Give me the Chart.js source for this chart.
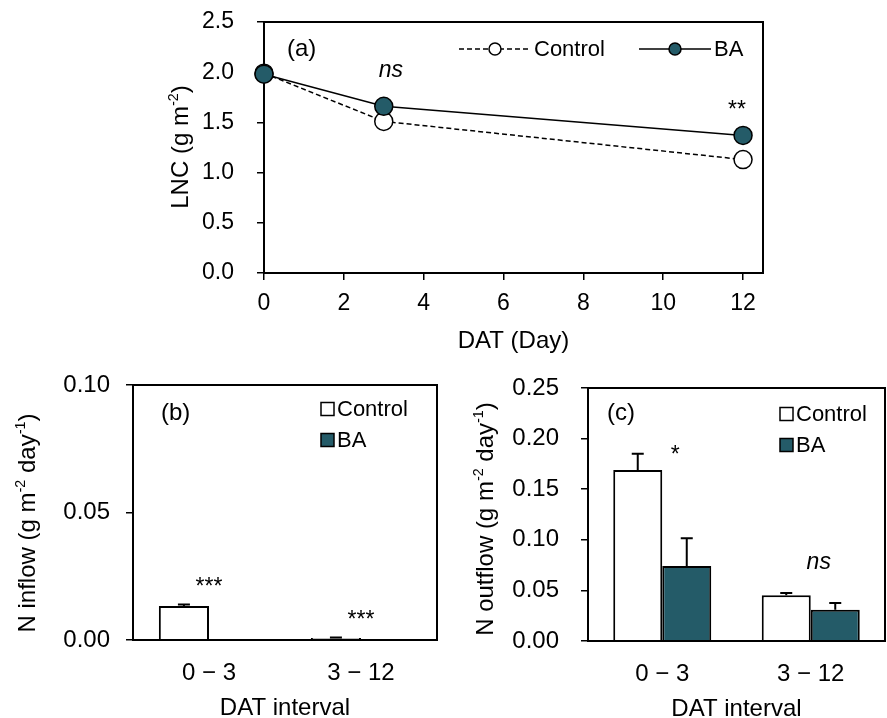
<!DOCTYPE html>
<html>
<head>
<meta charset="utf-8">
<script src="https://cdn.jsdelivr.net/npm/chart.js@4"></script>
<style>
  body { margin: 0; background: #fff; }
  #wrap { position: relative; width: 887px; height: 718px; }
  canvas { position: absolute; }
</style>
</head>
<body>
<div id="wrap">
  <canvas id="lncChart" width="887" height="360" style="left:0px;top:0px"></canvas>
  <canvas id="inflowChart" width="440" height="358" style="left:0px;top:360px"></canvas>
  <canvas id="outflowChart" width="447" height="358" style="left:440px;top:360px"></canvas>
</div>
<script>
const FONT = "'Liberation Sans', Arial, sans-serif";
const TEAL = '#245b68';

// (a) leaf N content
const days = [0, 3, 12];
const lncControl = [1.99, 1.51, 1.13];
const lncBA = [1.98, 1.66, 1.37];
const dayTicks = [0, 2, 4, 6, 8, 10, 12];
const lncTicks = [0, 0.5, 1.0, 1.5, 2.0, 2.5];

// (b), (c) N flows per interval
const intervals = ['0 \u2212 3', '3 \u2212 12'];
const inflowControl = [0.0133, 0.0008];
const inflowControlErr = [0.0006, 0.0002];
const inflowBA = [-0.0008, -0.0006];
const inflowBAErr = [0, 0];
const inflowTicks = [0, 0.05, 0.10];
const outflowControl = [0.169, 0.0453];
const outflowControlErr = [0.016, 0.0022];
const outflowBA = [0.074, 0.031];
const outflowBAErr = [0.0275, 0.0066];
const outflowTicks = [0, 0.05, 0.10, 0.15, 0.20, 0.25];

Chart.defaults.font.family = FONT;
Chart.defaults.color = '#000';

function font(size, italic) {
  return (italic ? 'italic ' : '') + size + 'px ' + FONT;
}

// text with superscript parts, optionally rotated (y titles)
function richText(ctx, parts, x, y, size, rotate) {
  ctx.save();
  ctx.translate(x, y);
  if (rotate) ctx.rotate(-Math.PI / 2);
  let total = 0;
  parts.forEach(p => {
    ctx.font = font(p.sup ? size * 0.6 : size);
    total += ctx.measureText(p.t).width;
  });
  let cx = -total / 2;
  const base = size * 0.33;
  ctx.textBaseline = 'alphabetic';
  ctx.textAlign = 'left';
  ctx.fillStyle = '#000';
  parts.forEach(p => {
    const s = p.sup ? size * 0.6 : size;
    ctx.font = font(s);
    ctx.fillText(p.t, cx, p.sup ? base - size * 0.42 : base);
    cx += ctx.measureText(p.t).width;
  });
  ctx.restore();
}

function drawFrame(chart) {
  const { ctx, chartArea: a } = chart;
  ctx.save();
  ctx.strokeStyle = '#000';
  ctx.lineWidth = 2;
  ctx.strokeRect(a.left, a.top, a.right - a.left, a.bottom - a.top);
  ctx.restore();
}

function deco(cfg) {
  return {
    id: 'deco',
    beforeDatasetsDraw(chart) {
      if (!cfg.frameOnTop) drawFrame(chart);
    },
    afterDatasetsDraw(chart) {
      const { ctx, chartArea: a, scales } = chart;
      if (cfg.frameOnTop) drawFrame(chart);
      // error bars
      chart.data.datasets.forEach((ds, i) => {
        if (!ds.errors) return;
        const meta = chart.getDatasetMeta(i);
        meta.data.forEach((bar, j) => {
          const e = ds.errors[j];
          if (!e) return;
          const y0 = scales.y.getPixelForValue(ds.data[j]);
          const y1 = scales.y.getPixelForValue(ds.data[j] + e);
          ctx.save();
          ctx.strokeStyle = '#000';
          ctx.lineWidth = 2;
          ctx.beginPath();
          ctx.moveTo(bar.x, y0);
          ctx.lineTo(bar.x, y1);
          ctx.moveTo(bar.x - 6, y1);
          ctx.lineTo(bar.x + 6, y1);
          ctx.stroke();
          ctx.restore();
        });
      });
      // significance notes
      ctx.save();
      ctx.fillStyle = '#000';
      ctx.textAlign = 'center';
      ctx.textBaseline = 'middle';
      cfg.notes.forEach(n => {
        ctx.font = font(n.size || 23, n.italic);
        const x = scales.x.getPixelForValue(n.xv) + (n.dx || 0);
        const y = scales.y.getPixelForValue(n.yv);
        ctx.fillText(n.text, x, y);
      });
      // panel label
      ctx.textAlign = 'left';
      ctx.font = font(24);
      ctx.fillText(cfg.label.text, a.left + cfg.label.dx, a.top + cfg.label.dy);
      ctx.restore();
      cfg.legend(ctx, a);
      // axis titles
      richText(ctx, cfg.yTitle, cfg.yTitlePos[0], cfg.yTitlePos[1], 24, true);
      richText(ctx, [{ t: cfg.xTitle }], (a.left + a.right) / 2, a.bottom + cfg.xTitleDy, 24, false);
    }
  };
}

function boxLegend(dx, dy) {
  return (ctx, a) => {
    const items = [['Control', '#fff'], ['BA', TEAL]];
    ctx.save();
    items.forEach(([name, fill], i) => {
      const x = a.left + dx, y = a.top + dy + i * 31;
      ctx.fillStyle = fill;
      ctx.strokeStyle = '#000';
      ctx.lineWidth = 1.5;
      ctx.fillRect(x, y - 6.5, 13, 13);
      ctx.strokeRect(x, y - 6.5, 13, 13);
      ctx.fillStyle = '#000';
      ctx.font = font(22);
      ctx.textBaseline = 'middle';
      ctx.fillText(name, x + 16, y + 1);
    });
    ctx.restore();
  };
}

function lineLegend(ctx, a) {
  const items = [['Control', '#fff', [5, 3], 195], ['BA', TEAL, [], 375]];
  ctx.save();
  items.forEach(([name, fill, dash, dx]) => {
    const x1 = a.left + dx, x2 = x1 + 72, y = a.top + 27;
    ctx.strokeStyle = '#000';
    ctx.lineWidth = 1.5;
    ctx.setLineDash(dash);
    ctx.beginPath();
    ctx.moveTo(x1, y);
    ctx.lineTo(x2, y);
    ctx.stroke();
    ctx.setLineDash([]);
    ctx.beginPath();
    ctx.arc((x1 + x2) / 2, y, 6, 0, Math.PI * 2);
    ctx.fillStyle = fill;
    ctx.fill();
    ctx.stroke();
    ctx.fillStyle = '#000';
    ctx.font = font(22);
    ctx.textBaseline = 'middle';
    ctx.textAlign = 'left';
    ctx.fillText(name, x2 + 3, y + 1);
  });
  ctx.restore();
}

function yAxis(ticks, digits, width, size, padding) {
  return {
    min: ticks[0], max: ticks[ticks.length - 1],
    afterBuildTicks: s => { s.ticks = ticks.map(v => ({ value: v })); },
    afterFit: s => { s.width = width; s.paddingTop = 0; s.paddingBottom = 0; },
    ticks: { font: { size: size }, padding: padding, callback: v => v.toFixed(digits) },
    grid: { drawOnChartArea: false, color: '#000', lineWidth: 1.5, tickLength: 7 },
    border: { color: '#000', width: 2 }
  };
}

// (a) line chart
new Chart(document.getElementById('lncChart').getContext('2d'), {
  type: 'line',
  data: {
    datasets: [
      {
        label: 'Control', order: 1, clip: false,
        data: days.map((d, i) => ({ x: d, y: lncControl[i] })),
        borderColor: '#000', borderWidth: 1.5, borderDash: [5, 3],
        pointRadius: 9, pointBorderWidth: 1.5, pointBorderColor: '#000',
        pointBackgroundColor: '#fff'
      },
      {
        label: 'BA', order: 0, clip: false,
        data: days.map((d, i) => ({ x: d, y: lncBA[i] })),
        borderColor: '#000', borderWidth: 1.5,
        pointRadius: 9, pointBorderWidth: 1.5, pointBorderColor: '#000',
        pointBackgroundColor: TEAL
      }
    ]
  },
  options: {
    responsive: false, animation: false, devicePixelRatio: 1,
    layout: { padding: { top: 22, right: 124, left: 0, bottom: 0 } },
    plugins: { legend: { display: false }, tooltip: { enabled: false } },
    scales: {
      x: {
        type: 'linear', min: 0, max: 12.5,
        afterBuildTicks: s => { s.ticks = dayTicks.map(v => ({ value: v })); },
        afterFit: s => { s.height = 87; s.paddingLeft = 0; s.paddingRight = 0; },
        ticks: { font: { size: 23 }, padding: 10, maxRotation: 0 },
        grid: { drawOnChartArea: false, color: '#000', lineWidth: 1.5, tickLength: 7 },
        border: { color: '#000', width: 2 }
      },
      y: yAxis(lncTicks, 1, 264, 23, 23)
    }
  },
  plugins: [deco({
    frameOnTop: false,
    notes: [
      { text: 'ns', xv: 3.18, yv: 2.02, italic: true },
      { text: '**', xv: 11.85, yv: 1.62 }
    ],
    label: { text: '(a)', dx: 23, dy: 27 },
    legend: lineLegend,
    yTitle: [{ t: 'LNC (g m' }, { t: '-2', sup: true }, { t: ')' }],
    yTitlePos: [180, 147],
    xTitle: 'DAT (Day)',
    xTitleDy: 67
  })]
});

function barChart(id, ctrl, ctrlErr, ba, baErr, ticks, yWidth, yPad, padding, xHeight, cfg) {
  new Chart(document.getElementById(id).getContext('2d'), {
    type: 'bar',
    data: {
      labels: intervals,
      datasets: [
        { label: 'Control', data: ctrl, errors: ctrlErr, backgroundColor: '#fff',
          borderColor: '#000', borderWidth: 2 },
        { label: 'BA', data: ba, errors: baErr, backgroundColor: TEAL,
          borderColor: '#000', borderWidth: 2 }
      ]
    },
    options: {
      responsive: false, animation: false, devicePixelRatio: 1,
      layout: { padding: padding },
      categoryPercentage: 0.66, barPercentage: 1,
      plugins: { legend: { display: false }, tooltip: { enabled: false } },
      scales: {
        x: {
          type: 'category', offset: true,
          afterFit: s => { s.height = xHeight; s.paddingLeft = 0; s.paddingRight = 0; },
          ticks: { font: { size: 24 }, padding: 11, maxRotation: 0 },
          grid: { display: false },
          border: { color: '#000', width: 2 }
        },
        y: yAxis(ticks, 2, yWidth, 24, yPad)
      }
    },
    plugins: [deco(cfg)]
  });
}

// (b) N inflow
barChart('inflowChart', inflowControl, inflowControlErr, inflowBA, inflowBAErr, inflowTicks,
  133, 16, { top: 25, right: 3, left: 0, bottom: 0 }, 78, {
    frameOnTop: true,
    notes: [
      { text: '***', xv: 0, yv: 0.0206 },
      { text: '***', xv: 1, yv: 0.0074 }
    ],
    label: { text: '(b)', dx: 28, dy: 28 },
    legend: boxLegend(188, 24),
    yTitle: [{ t: 'N inflow (g m' }, { t: '-2', sup: true }, { t: ' day' }, { t: '-1', sup: true }, { t: ')' }],
    yTitlePos: [27, 163],
    xTitle: 'DAT interval',
    xTitleDy: 67
  });

// (c) N outflow
barChart('outflowChart', outflowControl, outflowControlErr, outflowBA, outflowBAErr, outflowTicks,
  148, 22, { top: 28, right: 2, left: 0, bottom: 0 }, 77, {
    frameOnTop: true,
    notes: [
      { text: '*', xv: 0, dx: 13, yv: 0.183 },
      { text: 'ns', xv: 1, dx: 8, yv: 0.077, italic: true }
    ],
    label: { text: '(c)', dx: 19, dy: 25 },
    legend: boxLegend(192, 26),
    yTitle: [{ t: 'N outflow (g m' }, { t: '-2', sup: true }, { t: ' day' }, { t: '-1', sup: true }, { t: ')' }],
    yTitlePos: [45, 159],
    xTitle: 'DAT interval',
    xTitleDy: 67
  });
</script>
</body>
</html>
